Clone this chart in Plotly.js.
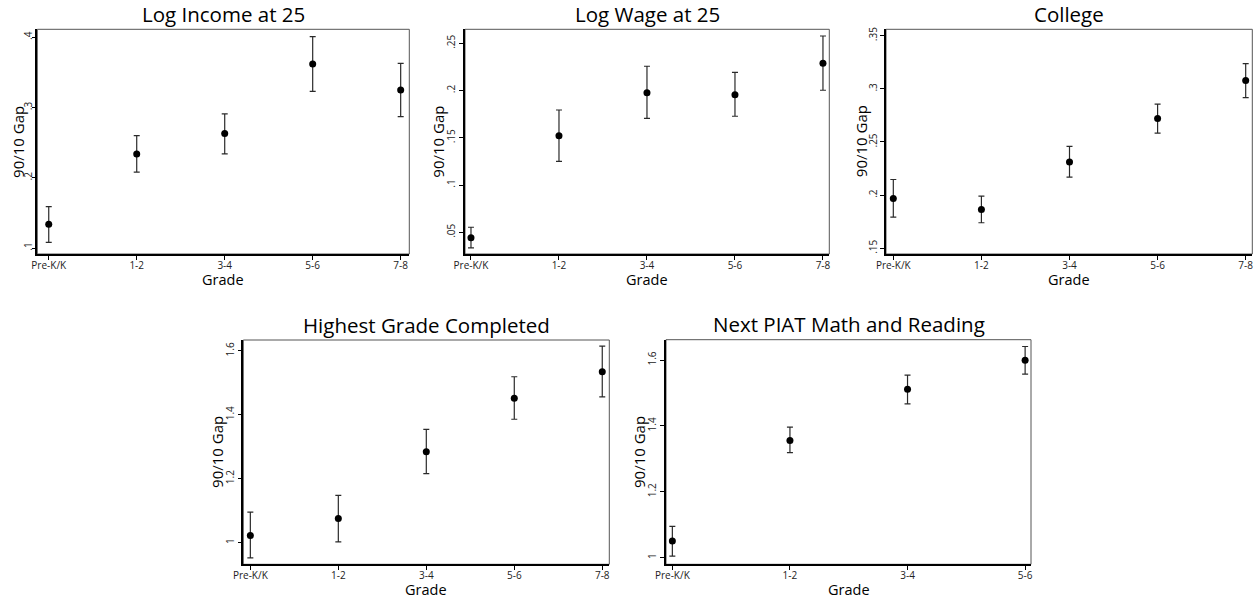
<!DOCTYPE html>
<html>
<head>
<meta charset="utf-8">
<script src="https://cdn.plot.ly/plotly-3.0.1.min.js"></script>
<style>html,body{margin:0;padding:0;background:#fff;}#chart{width:1260px;height:598px;}</style>
</head>
<body>
<div id="chart"></div>
<script>
// Categories
const grades5 = ['Pre-K/K', '1-2', '3-4', '5-6', '7-8'];
const grades4 = ['Pre-K/K', '1-2', '3-4', '5-6'];

// Panel titles and axis titles
const panelTitles = ['Log Income at 25', 'Log Wage at 25', 'College', 'Highest Grade Completed', 'Next PIAT Math and Reading'];
const xTitle = 'Grade';
const yTitle = '90/10 Gap';

// Estimates with upper / lower bounds of the error bars
const incomeEst = [0.134, 0.234, 0.263, 0.362, 0.325];
const incomeHi  = [0.159, 0.260, 0.291, 0.401, 0.363];
const incomeLo  = [0.108, 0.208, 0.234, 0.323, 0.287];

const wageEst = [0.0443, 0.1522, 0.1977, 0.1956, 0.2288];
const wageHi  = [0.0553, 0.1794, 0.2257, 0.2193, 0.2577];
const wageLo  = [0.0334, 0.1251, 0.1706, 0.1728, 0.2003];

const collegeEst = [0.1968, 0.1865, 0.2312, 0.2721, 0.3078];
const collegeHi  = [0.2147, 0.1990, 0.2459, 0.2856, 0.3237];
const collegeLo  = [0.1793, 0.1740, 0.2169, 0.2583, 0.2918];

const hgcEst = [1.022, 1.075, 1.284, 1.452, 1.535];
const hgcHi  = [1.095, 1.148, 1.354, 1.519, 1.615];
const hgcLo  = [0.952, 1.002, 1.216, 1.386, 1.456];

const piatEst = [1.051, 1.356, 1.511, 1.599];
const piatHi  = [1.095, 1.396, 1.554, 1.641];
const piatLo  = [1.005, 1.319, 1.467, 1.557];

// Y tick values and labels
const yt1 = [0.1, 0.2, 0.3, 0.4];        const yl1 = ['.1', '.2', '.3', '.4'];
const yt2 = [0.05, 0.1, 0.15, 0.2, 0.25]; const yl2 = ['.05', '.1', '.15', '.2', '.25'];
const yt3 = [0.15, 0.2, 0.25, 0.3, 0.35]; const yl3 = ['.15', '.2', '.25', '.3', '.35'];
const yt4 = [1, 1.2, 1.4, 1.6];           const yl4 = ['1', '1.2', '1.4', '1.6'];
const yt5 = [1, 1.2, 1.4, 1.6];           const yl5 = ['1', '1.2', '1.4', '1.6'];

const FONT = 'Open Sans, Noto Sans, sans-serif';
const W = 1260, H = 598;

const panels = [
  {x: grades5, est: incomeEst, hi: incomeHi, lo: incomeLo, tv: yt1, tt: yl1,
   px: [37.3, 409.3], py: [29.3, 254], xr: [-0.13, 4.098], yr: [0.0915, 0.4114], yto: 20, tls: -4, gx: 25.5},
  {x: grades5, est: wageEst, hi: wageHi, lo: wageLo, tv: yt2, tt: yl2,
   px: [465, 829.3], py: [29.3, 254], xr: [-0.068, 4.072], yr: [0.0270, 0.2648], yto: 27, tls: 0, gx: 25.5},
  {x: grades5, est: collegeEst, hi: collegeHi, lo: collegeLo, tv: yt3, tt: yl3,
   px: [886, 1252.3], py: [29.3, 254], xr: [-0.083, 4.075], yr: [0.1446, 0.356], yto: 25.5, tls: -1, gx: 25.5},
  {x: grades5, est: hgcEst, hi: hgcHi, lo: hgcLo, tv: yt4, tt: yl4,
   px: [243.3, 609.3], py: [340, 564.3], xr: [-0.08, 4.08], yr: [0.932, 1.634], yto: 26.5, tls: 0, gx: 25.5},
  {x: grades4, est: piatEst, hi: piatHi, lo: piatLo, tv: yt5, tt: yl5,
   px: [666, 1031], py: [339.7, 564.3], xr: [-0.054, 3.05], yr: [0.98, 1.6616], yto: 27, tls: 0, gx: 25.5}
];

const data = [];
const layout = {
  width: W, height: H,
  margin: {l: 0, r: 0, t: 0, b: 0},
  paper_bgcolor: '#fff', plot_bgcolor: '#fff',
  showlegend: false,
  font: {family: FONT, color: '#000'},
  annotations: [], shapes: []
};

panels.forEach((p, i) => {
  const n = i === 0 ? '' : String(i + 1);
  const xa = 'xaxis' + n, ya = 'yaxis' + n;
  const xr = 'x' + n, yr = 'y' + n;
  data.push({
    type: 'scatter', mode: 'markers',
    x: p.x, y: p.est, xaxis: xr, yaxis: yr,
    marker: {color: '#000', size: 7},
    error_y: {
      type: 'data', symmetric: false,
      array: p.hi.map((v, k) => v - p.est[k]),
      arrayminus: p.est.map((v, k) => v - p.lo[k]),
      color: '#2a2a2a', thickness: 1.2, width: 3
    },
    hoverinfo: 'x+y'
  });
  layout[xa] = {
    domain: [p.px[0] / W, p.px[1] / W],
    anchor: yr, type: 'category', range: p.xr,
    showgrid: false, zeroline: false,
    showline: true, linecolor: '#000', linewidth: 1.5,
    ticks: 'outside', ticklen: 4, tickwidth: 1, tickcolor: '#000',
    ticklabelstandoff: -3,
    tickfont: {family: FONT, size: 10, color: '#222'},
    fixedrange: true
  };
  layout[ya] = {
    domain: [1 - p.py[1] / H, 1 - p.py[0] / H],
    anchor: xr, range: p.yr,
    tickmode: 'array', tickvals: p.tv, ticktext: p.tt, tickangle: -90,
    showgrid: false, zeroline: false,
    showline: true, linecolor: '#000', linewidth: 1.5,
    ticks: 'outside', ticklen: 4, tickwidth: 1, tickcolor: '#000',
    ticklabelstandoff: p.tls,
    tickfont: {family: FONT, size: 10, color: '#222'},
    fixedrange: true
  };
  layout.shapes.push({
    type: 'rect', xref: xr + ' domain', yref: yr + ' domain',
    x0: 0, x1: 1, y0: 0, y1: 1,
    line: {color: '#555', width: 1}, layer: 'below'
  });
  // panel title
  layout.annotations.push({
    text: panelTitles[i], showarrow: false,
    xref: 'paper', yref: 'paper',
    x: (p.px[0] + p.px[1]) / 2 / W,
    y: 1 - (p.py[0] - 15.5) / H,
    xanchor: 'center', yanchor: 'middle',
    font: {family: FONT, size: 20.5, color: '#000'}
  });
  // x axis title
  layout.annotations.push({
    text: xTitle, showarrow: false,
    xref: 'paper', yref: 'paper',
    x: (p.px[0] + p.px[1]) / 2 / W,
    y: 1 - (p.py[1] + p.gx) / H,
    xanchor: 'center', yanchor: 'middle',
    font: {family: FONT, size: 14.5, color: '#000'}
  });
  // y axis title
  layout.annotations.push({
    text: yTitle, showarrow: false, textangle: -90,
    xref: 'paper', yref: 'paper',
    x: (p.px[0] - p.yto) / W,
    y: 1 - (p.py[0] + p.py[1]) / 2 / H,
    xanchor: 'center', yanchor: 'middle',
    font: {family: FONT, size: 15, color: '#000'}
  });
});

Plotly.newPlot('chart', data, layout, {displayModeBar: false});
</script>
</body>
</html>
